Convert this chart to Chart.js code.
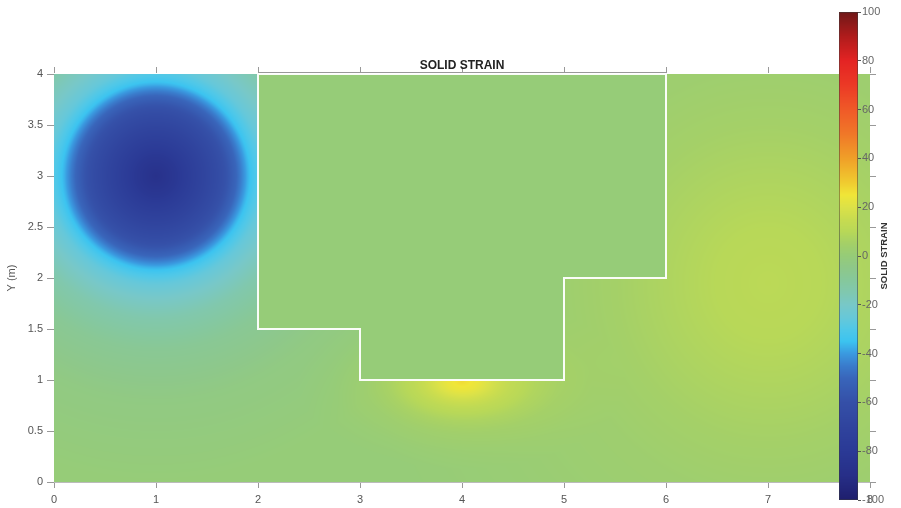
<!DOCTYPE html>
<html>
<head>
<meta charset="UTF-8" />
<script src="https://cdn.jsdelivr.net/npm/chart.js"></script>
<style>
  html, body { margin: 0; padding: 0; background: #fff; }
  #wrap { position: relative; width: 901px; height: 508px; }
  #wrap canvas { position: absolute; left: 0; top: 0; }
</style>
</head>
<body>
<div id="wrap">
  <canvas id="field" width="901" height="508"></canvas>
  <canvas id="cbar" width="901" height="508"></canvas>
</div>
<script>
// axis ticks
const xTicks = [0, 1, 2, 3, 4, 5, 6, 7, 8];
const yTicks = [0, 0.5, 1, 1.5, 2, 2.5, 3, 3.5, 4];
const cbarTicks = [-100, -80, -60, -40, -20, 0, 20, 40, 60, 80, 100];

// excavation outline (m)
const pitX = [2, 2, 3, 3, 5, 5, 6, 6, 2];
const pitY = [4, 1.5, 1.5, 1, 1, 2, 2, 4, 4];
const pitValue = 0;     // strain inside the excavation
const baseValue = 0;    // far-field strain

// strain anomalies: centre, stretch, radial profile (distance m -> strain)
const anomalyX = [1.0, 7.0, 4.0];
const anomalyY = [3.0, 1.95, 0.98];
const anomalySx = [1, 1, 1.6];
const anomalySy = [1, 1.05, 0.85];
const blueR = [0, 0.2, 0.4, 0.6, 0.7, 0.78, 0.84, 0.9, 0.97, 1.05, 1.2, 1.4, 1.7, 2.2, 3.0];
const blueV = [-88, -82, -73, -64, -58, -51, -44, -37, -31, -26, -20, -14, -8, -3, 0];
const greenR = [0, 0.5, 1.0, 1.5, 2.0, 3.0, 4.0];
const greenV = [11, 10, 7.5, 5, 3, 1.2, 0];
const yellowR = [0, 0.1, 0.2, 0.3, 0.45, 0.6, 0.8, 1.0];
const yellowV = [26, 22, 16, 11, 6, 3, 1, 0];
const anomalyR = [blueR, greenR, yellowR];
const anomalyV = [blueV, greenV, yellowV];

// colormap
const cmapValues = [-100, -90, -80, -70, -60, -50, -45, -40, -35, -30, -25, -20, -15, -10, -5, 0, 5, 10, 15, 20, 25, 30, 40, 50, 60, 70, 80, 90, 100];
const cmapColors = ['#1f1f6e', '#272f88', '#2b3a96', '#30449e', '#3550a8', '#3966bb', '#3a7ccc', '#3a9ae0', '#3cc4f0', '#50c8e8', '#68c8d8', '#78c8c8', '#80c8b0', '#86c89c', '#8ec88a', '#96cc78', '#a4d068', '#b8d858', '#c8dc50', '#dce248', '#f0e638', '#f0cc30', '#f0a028', '#f07828', '#f05a28', '#ec3a26', '#e42424', '#b01c1c', '#701818'];

Chart.defaults.font.family = "'Liberation Sans', Arial, sans-serif";
Chart.defaults.font.size = 11;
Chart.defaults.color = '#555';

const cmapRgb = cmapColors.map(h => [parseInt(h.slice(1, 3), 16), parseInt(h.slice(3, 5), 16), parseInt(h.slice(5, 7), 16)]);

function colorFor(v) {
  if (v <= cmapValues[0]) return cmapRgb[0];
  for (let i = 1; i < cmapValues.length; i++) {
    if (v <= cmapValues[i]) {
      const t = (v - cmapValues[i - 1]) / (cmapValues[i] - cmapValues[i - 1]);
      const a = cmapRgb[i - 1], b = cmapRgb[i];
      return [a[0] + (b[0] - a[0]) * t, a[1] + (b[1] - a[1]) * t, a[2] + (b[2] - a[2]) * t];
    }
  }
  return cmapRgb[cmapRgb.length - 1];
}

function profileAt(r, R, V) {
  if (r >= R[R.length - 1]) return V[V.length - 1];
  for (let i = 1; i < R.length; i++) {
    if (r <= R[i]) return V[i - 1] + (V[i] - V[i - 1]) * (r - R[i - 1]) / (R[i] - R[i - 1]);
  }
  return V[V.length - 1];
}

function insidePit(x, y) {
  let inside = false;
  for (let i = 0, j = pitX.length - 1; i < pitX.length; j = i++) {
    if ((pitY[i] > y) !== (pitY[j] > y) &&
        x < (pitX[j] - pitX[i]) * (y - pitY[i]) / (pitY[j] - pitY[i]) + pitX[i]) inside = !inside;
  }
  return inside;
}

function strainAt(x, y) {
  if (insidePit(x, y)) return pitValue;
  let v = baseValue;
  for (let k = 0; k < anomalyX.length; k++) {
    const dx = (x - anomalyX[k]) / anomalySx[k];
    const dy = (y - anomalyY[k]) / anomalySy[k];
    v += profileAt(Math.hypot(dx, dy), anomalyR[k], anomalyV[k]);
  }
  return v;
}

// paints the strain field into the plot area
const fieldPlugin = {
  id: 'fieldPlugin',
  beforeDatasetsDraw(chart) {
    const { ctx, chartArea: a, scales: { x, y } } = chart;
    const w = Math.round(a.right - a.left), h = Math.round(a.bottom - a.top);
    const img = ctx.createImageData(w, h);
    for (let j = 0; j < h; j++) {
      const yv = y.getValueForPixel(a.top + j + 0.5);
      for (let i = 0; i < w; i++) {
        const xv = x.getValueForPixel(a.left + i + 0.5);
        const c = colorFor(strainAt(xv, yv));
        const p = (j * w + i) * 4;
        img.data[p] = c[0]; img.data[p + 1] = c[1]; img.data[p + 2] = c[2]; img.data[p + 3] = 255;
      }
    }
    ctx.putImageData(img, Math.round(a.left), Math.round(a.top));
  },
  afterDatasetsDraw(chart) {
    const { ctx, chartArea: a, scales: { x, y } } = chart;
    ctx.save();
    ctx.strokeStyle = '#999';
    ctx.lineWidth = 1;
    ctx.beginPath();
    // mirrored ticks on top and right
    xTicks.forEach(v => {
      const px = Math.round(x.getPixelForValue(v)) + 0.5;
      ctx.moveTo(px, a.top - 7); ctx.lineTo(px, a.top - 1);
    });
    yTicks.forEach(v => {
      const py = Math.round(y.getPixelForValue(v)) + 0.5;
      ctx.moveTo(a.right, py); ctx.lineTo(a.right + 6, py);
    });
    // top edge of the excavation
    ctx.moveTo(x.getPixelForValue(pitX[0]), a.top - 1.5);
    ctx.lineTo(x.getPixelForValue(pitX[7]), a.top - 1.5);
    ctx.stroke();
    ctx.restore();
  },
  afterDraw(chart) {
    const { ctx, chartArea: a } = chart;
    ctx.save();
    ctx.fillStyle = '#222';
    ctx.font = "bold 12px 'Liberation Sans', Arial, sans-serif";
    ctx.textAlign = 'center';
    ctx.textBaseline = 'middle';
    ctx.fillText('SOLID STRAIN', (a.left + a.right) / 2, 66);
    ctx.restore();
  }
};

new Chart(document.getElementById('field'), {
  type: 'scatter',
  data: {
    datasets: [{
      data: pitX.map((v, i) => ({ x: v, y: pitY[i] })),
      showLine: true,
      borderColor: 'rgba(255,255,255,0.95)',
      borderWidth: 2,
      pointRadius: 0,
      clip: false
    }]
  },
  options: {
    responsive: false,
    animation: false,
    devicePixelRatio: 1,
    layout: { padding: { left: 0, right: 31, top: 74, bottom: 0 } },
    plugins: { legend: { display: false }, tooltip: { enabled: false } },
    scales: {
      x: {
        type: 'linear', min: 0, max: 8,
        afterBuildTicks: s => { s.ticks = xTicks.map(v => ({ value: v })); },
        ticks: { color: '#555', padding: 5, maxRotation: 0, autoSkip: false, callback: v => String(v) },
        grid: { drawOnChartArea: false, drawTicks: true, tickLength: 6, color: '#999' },
        border: { color: '#bbb' },
        afterFit: s => { s.height = 26; }
      },
      y: {
        type: 'linear', min: 0, max: 4,
        afterBuildTicks: s => { s.ticks = yTicks.map(v => ({ value: v })); },
        ticks: { color: '#555', padding: 4, autoSkip: false, callback: v => String(v) },
        grid: { drawOnChartArea: false, drawTicks: true, tickLength: 7, color: '#999' },
        border: { color: '#bbb' },
        title: { display: true, text: 'Y (m)', color: '#555', font: { size: 11 }, padding: { top: 5, bottom: 0 } },
        afterFit: s => { s.width = 54; }
      }
    }
  },
  plugins: [fieldPlugin]
});

// colour bar
const cbarPlugin = {
  id: 'cbarPlugin',
  beforeDatasetsDraw(chart) {
    const { ctx, chartArea: a, scales: { y } } = chart;
    ctx.save();
    for (let py = Math.round(a.top); py < Math.round(a.bottom); py++) {
      const c = colorFor(y.getValueForPixel(py + 0.5));
      ctx.fillStyle = `rgb(${c[0] | 0},${c[1] | 0},${c[2] | 0})`;
      ctx.fillRect(a.left, py, a.right - a.left, 1);
    }
    ctx.strokeStyle = 'rgba(60,60,60,0.5)';
    ctx.lineWidth = 1;
    ctx.strokeRect(a.left + 0.5, a.top + 0.5, a.right - a.left - 1, a.bottom - a.top - 1);
    ctx.restore();
  },
  afterDraw(chart) {
    const { ctx, chartArea: a } = chart;
    ctx.save();
    ctx.translate(884, (a.top + a.bottom) / 2);
    ctx.rotate(-Math.PI / 2);
    ctx.fillStyle = '#333';
    ctx.font = "bold 9.5px 'Liberation Sans', Arial, sans-serif";
    ctx.textAlign = 'center';
    ctx.textBaseline = 'middle';
    ctx.fillText('SOLID STRAIN', 0, 0);
    ctx.restore();
  }
};

new Chart(document.getElementById('cbar'), {
  type: 'scatter',
  data: { datasets: [{ data: [] }] },
  options: {
    responsive: false,
    animation: false,
    devicePixelRatio: 1,
    layout: { padding: { left: 839, right: 0, top: 12, bottom: 8 } },
    plugins: { legend: { display: false }, tooltip: { enabled: false } },
    scales: {
      x: { display: false, min: 0, max: 1 },
      y: {
        position: 'right', min: -100, max: 100,
        afterBuildTicks: s => { s.ticks = cbarTicks.map(v => ({ value: v })); },
        ticks: { color: '#666', padding: 1, autoSkip: false },
        grid: { drawOnChartArea: false, drawTicks: true, tickLength: 3, color: '#555' },
        border: { display: false },
        afterFit: s => { s.width = 43; }
      }
    }
  },
  plugins: [cbarPlugin]
});
</script>
</body>
</html>
